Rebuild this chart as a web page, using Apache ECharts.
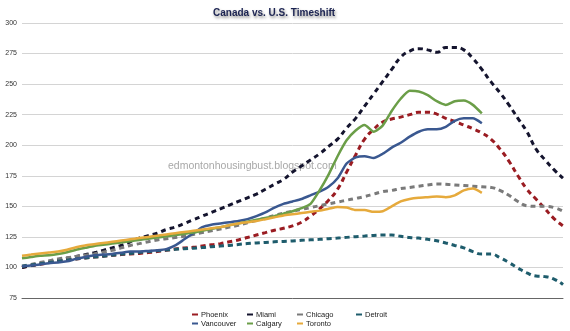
<!DOCTYPE html>
<html><head><meta charset="utf-8">
<script src="https://cdn.jsdelivr.net/npm/echarts@6/dist/echarts.min.js"></script>
<style>html,body{margin:0;padding:0;background:#fff}#c{width:570px;height:331px}</style>
</head><body><div id="c"></div>
<script>
const categories = Array.from({length: 61}, (_, i) => String(i + 1));
const yTicks = [75, 100, 125, 150, 175, 200, 225, 250, 275, 300];

const phoenix = [100,101.5,102.5,104,105,106,107,107.8,108.5,109.2,110,110.5,111,111.5,112.2,113,114,115,116,116.5,117.5,118.5,119.5,121,122.5,124.5,126.5,128.5,130.5,132,134,137,142,148,155,164,178,192,205,213,219,221.5,223,225,227,227,225.5,222,219.5,216.5,213.5,210,205,197,187,175,164,156,148,140,134];
const miami = [100,101.5,103,104.5,106,107.5,109,110.5,112,114,116,118,121,124,126,128,131,133,136,139,142,145,148,151,154,157,160,164,168,172,178,183,188,193,199,205,214,222,232,242,252,262,272,277,279,278,276,280,280,278,271,262,252,243,233,222,211,197,188,180,173];
const chicago = [101,102.5,104,105.5,107,108,109,110,111,112.5,114,116,118,119.5,121,122.5,123.5,124.5,125.5,127,128.5,130,131.5,133,134.5,136.5,138.5,140.5,142.5,144.5,146,147.5,149,150.5,152,153.5,155,156.5,158,160,162,163,164.5,165.5,166.5,167.5,168.3,168,167.5,167,166.5,166,165.5,163,159,154,150.5,150,150,149,146];
const detroit = [101,102,103,104,105,106,107,107.8,108.5,109.2,110,110.8,111.5,112.2,113,113.6,114.2,114.8,115.3,115.8,116.3,117,117.5,118,118.8,119.5,120,120.5,121,121.3,121.7,122.2,122.6,123,123.5,124,124.6,125.2,125.7,126.2,126.5,126.5,125.5,124.5,124,123,121.8,120,118,116,113,111,111,108,104,99.5,95.5,93,92.5,90.5,86];
const vancouver = [101,101.5,102.5,103.5,104,105,107,108.5,110,110.5,111,112,113,113,113.5,114,115,118,123,128,133,135,136,137,138,139.5,142,145,149,152,154,156,159,162,166,173,185,190,191,189.5,193,198,202,207,211,213,213,215,220,222,222,218];
const calgary = [107.5,108.5,109.5,110,111,112.5,114.5,116,117.5,118.5,119.5,120.5,121.5,122.5,123.5,124.5,125.5,126.5,127.5,128.5,130,131.5,133,134.5,136,137.5,139,140.5,142,144,146,148.5,152,163,176,191,204,212,216.5,211,216,228,238,244.5,244,241,236,233,236,236.5,233,226];
const toronto = [109.5,110.5,111.5,112.3,113,114.5,116.5,118,119,120,121,122,123,124,125,126,127,128,129,130,131,132,133,134.5,136,137,138,139.5,141,142.5,143.5,144.5,145.5,146.5,148,149.5,149,147,147,145.5,146,150,154,156,157,157.5,158,157.5,159,163,164.5,161];

const seriesNames = ['Phoenix','Miami','Chicago','Detroit','Vancouver','Calgary','Toronto'];
const seriesData = [phoenix, miami, chicago, detroit, vancouver, calgary, toronto];
const colors = ['#9a1c22','#14142e','#7a7a7a','#1e5c6c','#3a5890','#6b9e48','#e6aa3c'];
const dashed = [true, true, true, true, false, false, false];

const chart = echarts.init(document.getElementById('c'), null, {renderer: 'canvas'});
const legendCols = [['Phoenix','Vancouver'],['Miami','Calgary'],['Chicago','Toronto'],['Detroit']];
const legendLeft = [192, 247, 297, 356];

chart.setOption({
  animation: false,
  backgroundColor: '#fff',
  title: {
    text: 'Canada vs. U.S. Timeshift',
    left: 208, top: 3,
    textStyle: {fontFamily: 'Liberation Sans, Arial', fontWeight: 'bold', fontSize: 10, color: '#1c2452',
      textShadowColor: 'rgba(0,0,0,0.45)', textShadowBlur: 3, textShadowOffsetX: 1, textShadowOffsetY: 2}
  },
  color: colors,
  legend: legendCols.map((names, k) => ({
    data: names.map(n => ({name: n, icon: 'rect', itemStyle: {color: colors[seriesNames.indexOf(n)], borderWidth: 0}})),
    orient: 'vertical', left: legendLeft[k], top: 310,
    itemWidth: 6, itemHeight: 2, itemGap: 0,
    lineStyle: {type: 'solid', width: 0, opacity: 0},
    textStyle: {fontFamily: 'Liberation Sans, Arial', fontSize: 7.5, color: '#222', lineHeight: 9, padding: [0,0,0,-2]},
    padding: 0
  })),
  grid: {left: 22, right: 7, top: 23, bottom: 33},
  xAxis: {
    type: 'category', data: categories, boundaryGap: false,
    axisLine: {lineStyle: {color: '#666', width: 1}},
    axisTick: {show: false}, axisLabel: {show: false}, splitLine: {show: false}
  },
  yAxis: {
    type: 'value', min: yTicks[0], max: yTicks[yTicks.length-1], interval: 25,
    axisLine: {show: false}, axisTick: {show: false},
    axisLabel: {fontFamily: 'Liberation Sans, Arial', fontSize: 7, color: '#333', margin: 5},
    splitLine: {lineStyle: {color: '#d4d4d4', width: 1}}
  },
  graphic: [{
    type: 'text', left: 168, top: 161,
    style: {text: 'edmontonhousingbust.blogspot.com', fontFamily: 'Liberation Sans, Arial', fontSize: 10.5, fill: '#a8a8a8'},
    z: 0, zlevel: 0
  }],
  series: seriesNames.map((name, k) => ({
    name, type: 'line', data: seriesData[k], showSymbol: false,
    smooth: dashed[k] ? 0.5 : 0.2,
    lineStyle: {color: colors[k], width: dashed[k] ? 3 : 2.5, type: dashed[k] ? [5, 4] : 'solid'},
    itemStyle: {color: colors[k]},
    z: dashed[k] ? 3 : 4
  }))
});
</script></body></html>
